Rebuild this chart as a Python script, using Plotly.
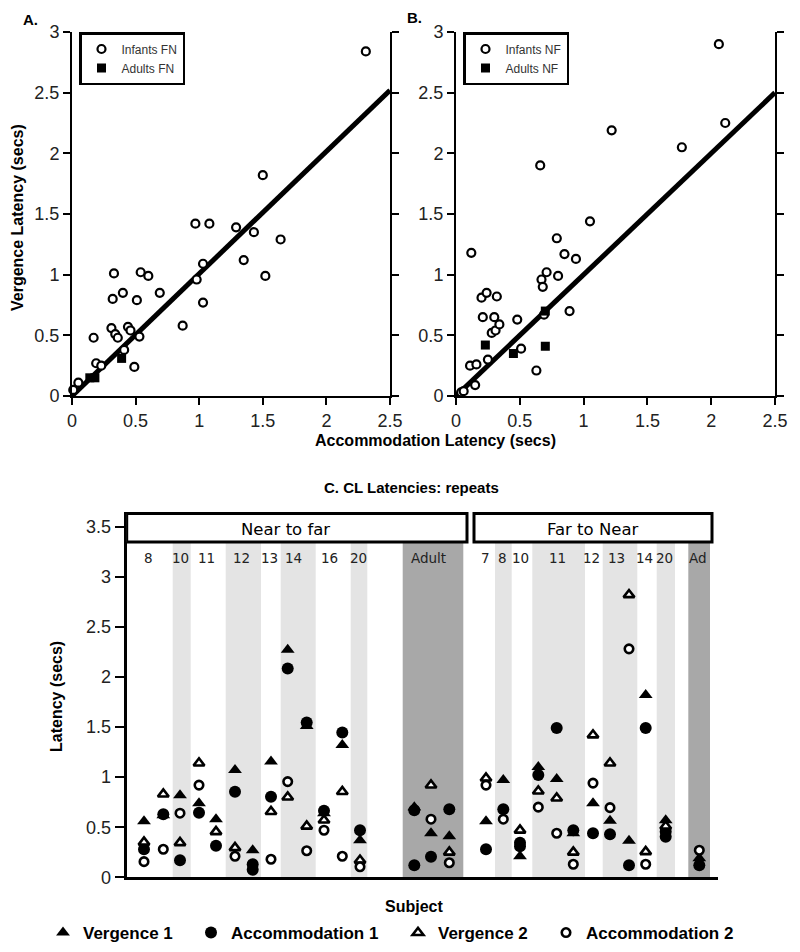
import plotly.graph_objects as go

# ---------------- Panel A: far-to-near ----------------
infA_x = [0.05, 0.01, 0.17, 0.19, 0.23, 0.31, 0.34, 0.36, 0.32, 0.33, 0.40, 0.41, 0.44, 0.46, 0.51, 0.53, 0.49,
          0.54, 0.60, 0.69, 0.87, 0.97, 0.98, 1.03, 1.03, 1.08, 1.29, 1.43, 1.35, 1.50, 1.52, 1.64, 2.31]
infA_y = [0.11, 0.05, 0.48, 0.27, 0.25, 0.56, 0.51, 0.48, 0.80, 1.01, 0.85, 0.38, 0.57, 0.54, 0.79, 0.49, 0.24,
          1.02, 0.99, 0.85, 0.58, 1.42, 0.96, 1.09, 0.77, 1.42, 1.39, 1.35, 1.12, 1.82, 0.99, 1.29, 2.84]
adA_x = [0.14, 0.18, 0.39]
adA_y = [0.15, 0.15, 0.31]
fitA_x = [0.0, 2.5]
fitA_y = [0.0, 2.52]

# ---------------- Panel B: near-to-far ----------------
infB_x = [0.04, 0.06, 0.12, 0.11, 0.16, 0.15, 0.20, 0.21, 0.24, 0.32, 0.25, 0.30, 0.28, 0.31, 0.34, 0.48, 0.51,
          0.63, 0.66, 0.67, 0.68, 0.71, 0.69, 0.80, 0.79, 0.85, 0.94, 0.89, 1.05, 1.22, 1.77, 2.06, 2.11]
infB_y = [0.03, 0.04, 1.18, 0.25, 0.26, 0.09, 0.81, 0.65, 0.85, 0.82, 0.30, 0.65, 0.52, 0.54, 0.59, 0.63, 0.39,
          0.21, 1.90, 0.96, 0.90, 1.02, 0.67, 0.99, 1.30, 1.17, 1.13, 0.70, 1.44, 2.19, 2.05, 2.90, 2.25]
adB_x = [0.23, 0.45, 0.70, 0.70]
adB_y = [0.42, 0.35, 0.70, 0.41]
fitB_x = [0.0, 2.5]
fitB_y = [0.0, 2.5]

# ---------------- Panel C: repeats ----------------
col_pos = [1.73, 3.66, 5.33, 7.23, 8.93, 10.83, 12.6, 14.43, 16.1, 18.0, 19.73, 21.56, 23.33,
           28.76, 30.43, 32.26,
           35.93, 37.66, 39.33, 41.16, 43.0, 44.66, 46.63, 48.33, 50.23, 51.9, 53.9, 57.26]
verg1 = [0.56, 0.62, 0.82, 0.74, 0.58, 1.07, 0.27, 1.155, 2.27, 1.51, 0.64, 1.32, 0.37,
         0.70, 0.44, 0.41,
         0.56, 0.97, 0.21, 1.10, 0.98, 0.44, 0.74, 0.565, 0.365, 1.82, 0.57, 0.19]
acc1 = [0.28, 0.63, 0.17, 0.645, 0.315, 0.855, 0.13, 0.805, 2.085, 1.545, 0.665, 1.445, 0.47,
        0.67, 0.205, 0.68,
        0.28, 0.68, 0.345, 1.02, 1.49, 0.47, 0.44, 0.43, 0.12, 1.49, 0.455, 0.12]
verg2 = [0.35, 0.83, 0.345, 1.14, 0.455, 0.295, None, 0.655, 0.80, 0.51, 0.57, 0.855, 0.17,
         None, 0.92, 0.25,
         0.99, None, 0.47, 0.86, 0.79, 0.25, 1.42, 1.14, 2.82, 0.255, 0.51, None]
acc2 = [0.156, 0.28, 0.64, 0.92, None, 0.21, None, 0.18, 0.955, 0.265, 0.47, 0.21, 0.105,
        None, 0.58, 0.145,
        0.92, 0.58, None, 0.70, 0.44, 0.13, 0.94, 0.695, 2.28, 0.13, None, 0.27]
acc1_extra_pos = [12.6, 28.76, 39.33, 53.9]
acc1_extra = [0.075, 0.12, 0.31, 0.405]

subj_labels = ["8", "10", "11", "12", "13", "14", "16", "20", "Adult",
               "7", "8", "10", "11", "12", "13", "14", "20", "Ad"]
subj_pos = [2.16, 5.38, 8.0, 11.43, 14.23, 16.63, 20.3, 23.13, 30.13,
            35.91, 37.53, 39.36, 43.03, 46.43, 49.0, 51.8, 53.75, 57.08]
light_start = [4.6, 9.9, 15.4, 22.4, 36.83, 40.56, 47.6, 53.0]
light_end = [6.4, 13.43, 18.9, 24.06, 38.5, 45.83, 51.06, 54.83]
dark_start = [27.6, 56.16]
dark_end = [33.66, 58.33]
group_names = ["Near to far", "Far to Near"]
group_start = [0.0, 34.73]
group_end = [34.03, 58.53]
group_text_pos = [15.83, 46.65]

FONT = "Liberation Sans, Arial, sans-serif"
VFONT = "DejaVu Sans, Verdana, sans-serif"

# page offset of the plot div (default body margin)
OFF = 8
W, H = 800 - OFF, 952 - OFF


def fx(p):
    return (p - OFF) / W


def fy(p):
    return 1 - (p - OFF) / H


fig = go.Figure()

open_circle = dict(symbol="circle", size=8, color="white", line=dict(color="black", width=2.2))
square = dict(symbol="square", size=9, color="black", line=dict(width=0))

# Panel A
fig.add_trace(go.Scatter(x=fitA_x, y=fitA_y, mode="lines", line=dict(color="black", width=5),
                         showlegend=False, xaxis="x", yaxis="y", hoverinfo="skip"))
fig.add_trace(go.Scatter(x=infA_x, y=infA_y, mode="markers", marker=open_circle, name="Infants FN",
                         legend="legend", xaxis="x", yaxis="y", cliponaxis=False))
fig.add_trace(go.Scatter(x=adA_x, y=adA_y, mode="markers", marker=square, name="Adults FN",
                         legend="legend", xaxis="x", yaxis="y", cliponaxis=False))
# Panel B
fig.add_trace(go.Scatter(x=fitB_x, y=fitB_y, mode="lines", line=dict(color="black", width=5),
                         showlegend=False, xaxis="x2", yaxis="y2", hoverinfo="skip"))
fig.add_trace(go.Scatter(x=infB_x, y=infB_y, mode="markers", marker=open_circle, name="Infants NF",
                         legend="legend2", xaxis="x2", yaxis="y2", cliponaxis=False))
fig.add_trace(go.Scatter(x=adB_x, y=adB_y, mode="markers", marker=square, name="Adults NF",
                         legend="legend2", xaxis="x2", yaxis="y2", cliponaxis=False))

# Panel C
fig.add_trace(go.Scatter(x=col_pos, y=verg1, mode="markers", name="<b>Vergence 1</b>", legend="legend3",
                         marker=dict(symbol="triangle-up", size=12, color="black"),
                         xaxis="x3", yaxis="y3", cliponaxis=False))
fig.add_trace(go.Scatter(x=col_pos + acc1_extra_pos, y=acc1 + acc1_extra, mode="markers",
                         name="<b>Accommodation 1</b>", legend="legend4",
                         marker=dict(symbol="circle", size=12, color="black"),
                         xaxis="x3", yaxis="y3", cliponaxis=False))
fig.add_trace(go.Scatter(x=col_pos, y=verg2, mode="markers", name="<b>Vergence 2</b>", legend="legend5",
                         marker=dict(symbol="triangle-up", size=9.5, color="white",
                                     line=dict(color="black", width=2.6)),
                         xaxis="x3", yaxis="y3", cliponaxis=False))
fig.add_trace(go.Scatter(x=col_pos, y=acc2, mode="markers", name="<b>Accommodation 2</b>", legend="legend6",
                         marker=dict(symbol="circle", size=8.5, color="white",
                                     line=dict(color="black", width=2.6)),
                         xaxis="x3", yaxis="y3", cliponaxis=False))

shapes = []
for s, e in zip(light_start, light_end):
    shapes.append(dict(type="rect", xref="x3", yref="y3", x0=s, x1=e, y0=0, y1=3.346,
                       fillcolor="#e4e4e4", line=dict(width=0), layer="below"))
for s, e in zip(dark_start, dark_end):
    shapes.append(dict(type="rect", xref="x3", yref="y3", x0=s, x1=e, y0=0, y1=3.346,
                       fillcolor="#a8a8a8", line=dict(width=0), layer="below"))
for s, e in zip(group_start, group_end):
    shapes.append(dict(type="rect", xref="x3", yref="y3", x0=s, x1=e, y0=3.346, y1=3.63,
                       fillcolor="white", line=dict(color="black", width=3), layer="above"))

annotations = []
for lab, p in zip(subj_labels, subj_pos):
    annotations.append(dict(x=p, y=3.183, xref="x3", yref="y3", text=lab, showarrow=False,
                            font=dict(family=VFONT, size=13.5, color="#222")))
for name, p in zip(group_names, group_text_pos):
    annotations.append(dict(x=p, y=3.475, xref="x3", yref="y3", text=name, showarrow=False,
                            font=dict(family=VFONT, size=16.5, color="black")))


def pa(text, px, py, size, angle=0):
    return dict(text=text, x=fx(px), y=fy(py), xref="paper", yref="paper", showarrow=False,
                textangle=angle, xanchor="center", yanchor="middle",
                font=dict(family=FONT, size=size, color="black"))


annotations += [
    pa("<b>A.</b>", 30, 19, 15),
    pa("<b>B.</b>", 415, 18, 15),
    pa("<b>Vergence Latency (secs)</b>", 18, 218, 16, -90),
    pa("<b>Accommodation Latency (secs)</b>", 435, 440, 16),
    pa("<b>C. CL Latencies: repeats</b>", 412, 487, 15),
    pa("<b>Latency (secs)</b>", 56, 697, 16, -90),
    pa("<b>Subject</b>", 414, 906, 16),
]

tickfont = dict(family=FONT, size=18, color="#222")
scatter_x = dict(range=[0, 2.5], tickvals=[0, 0.5, 1, 1.5, 2, 2.5], ticktext=["0", "0.5", "1", "1.5", "2", "2.5"],
                 showline=True, linecolor="black", linewidth=2, ticks="outside", ticklen=7, tickwidth=2,
                 tickcolor="black", showgrid=False, zeroline=False, tickfont=tickfont, fixedrange=True,
                 automargin=False)
scatter_y = dict(range=[0, 3], tickvals=[0, 0.5, 1, 1.5, 2, 2.5, 3], ticktext=["0", "0.5", "1", "1.5", "2", "2.5", "3"],
                 showline=True, linecolor="black", linewidth=2, ticks="outside", ticklen=7, tickwidth=2,
                 tickcolor="black", mirror="ticks", showgrid=False, zeroline=False, tickfont=tickfont,
                 fixedrange=True, automargin=False)

ydom_top = [fy(396), fy(32)]

leg_common = dict(font=dict(family=FONT, size=12, color="#333"), bgcolor="white", bordercolor="black",
                  borderwidth=2.5, xanchor="left", yanchor="top", orientation="v", tracegroupgap=0)
legC = dict(font=dict(family=FONT, size=17, color="black"), bgcolor="rgba(0,0,0,0)", borderwidth=0,
            xanchor="left", yanchor="middle", orientation="h", y=fy(933))

fig.update_layout(
    width=W, height=H, autosize=False,
    margin=dict(l=0, r=0, t=0, b=0, pad=0, autoexpand=False),
    paper_bgcolor="white", plot_bgcolor="white",
    showlegend=True,
    xaxis=dict(domain=[fx(72), fx(390)], anchor="y", **scatter_x),
    yaxis=dict(domain=ydom_top, anchor="x", **scatter_y),
    xaxis2=dict(domain=[fx(456), fx(775)], anchor="y2", **scatter_x),
    yaxis2=dict(domain=ydom_top, anchor="x2", **scatter_y),
    xaxis3=dict(domain=[fx(126.7), fx(718)], anchor="y3", range=[0, 59.13], showline=True,
                linecolor="black", linewidth=3, showticklabels=False, ticks="", showgrid=False,
                zeroline=False, fixedrange=True, automargin=False),
    yaxis3=dict(domain=[fy(877.3), fy(512.1)], anchor="x3", range=[0, 3.645],
                tickvals=[0, 0.5, 1, 1.5, 2, 2.5, 3, 3.5],
                ticktext=["0", "0.5", "1", "1.5", "2", "2.5", "3", "3.5"],
                showline=True, linecolor="black", linewidth=3, ticks="outside", ticklen=9, tickwidth=2,
                tickcolor="black", showgrid=False, zeroline=False, tickfont=tickfont, fixedrange=True,
                automargin=False),
    legend=dict(x=fx(79), y=fy(32), **leg_common),
    legend2=dict(x=fx(463), y=fy(32), **leg_common),
    legend3=dict(x=fx(43), **legC),
    legend4=dict(x=fx(191), **legC),
    legend5=dict(x=fx(398), **legC),
    legend6=dict(x=fx(546), **legC),
    shapes=shapes,
    annotations=annotations,
)

fig.write_html("out.html")
